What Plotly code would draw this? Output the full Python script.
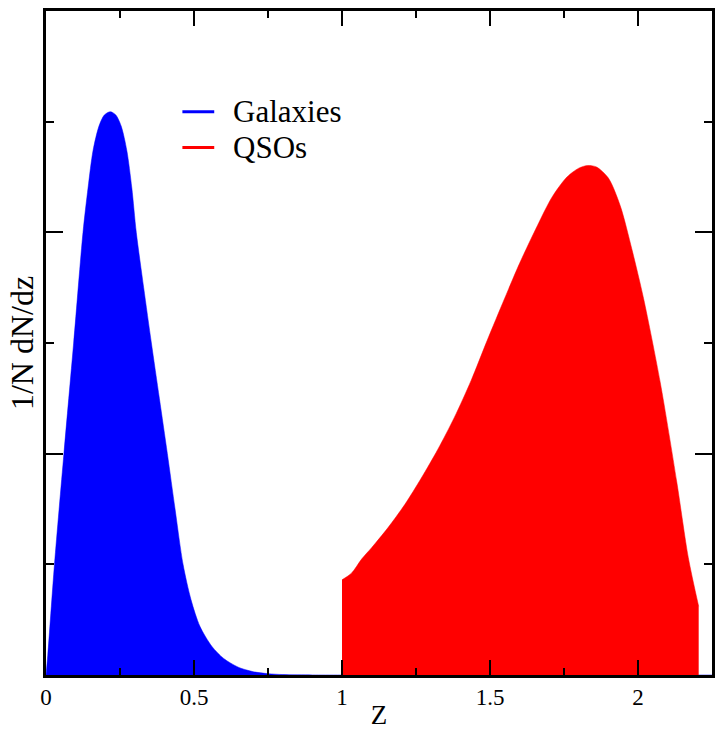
import plotly.graph_objects as go

# Galaxies redshift distribution (z, 1/N dN/dz)
gal_z = [0.0, 0.006, 0.0286, 0.0605, 0.0934, 0.125, 0.142, 0.159, 0.179, 0.197,
         0.2175, 0.236, 0.254, 0.273, 0.29, 0.305, 0.33, 0.356, 0.383, 0.41,
         0.436, 0.463, 0.49, 0.52, 0.56, 0.6, 0.65, 0.7, 0.75, 0.8, 0.9, 1.0, 2.25]
gal_v = [0.0, 0.09, 0.5, 1.0, 1.5, 2.0, 2.2, 2.37, 2.48, 2.53,
         2.545, 2.53, 2.48, 2.37, 2.2, 2.0, 1.75, 1.5, 1.25, 1.0,
         0.75, 0.5, 0.34, 0.22, 0.13, 0.075, 0.035, 0.015, 0.006, 0.002, 0.0003, 0.0, 0.0]

# QSOs redshift distribution
qso_z = [1.0, 1.032, 1.067, 1.10, 1.155, 1.212, 1.268, 1.324, 1.38, 1.436, 1.49,
         1.549, 1.60, 1.66, 1.71, 1.76, 1.80, 1.83, 1.86, 1.90, 1.94, 1.98,
         2.019, 2.075, 2.131, 2.17, 2.205]
qso_v = [0.43, 0.46, 0.525, 0.575, 0.665, 0.77, 0.89, 1.02, 1.165, 1.33, 1.51,
         1.70, 1.86, 2.03, 2.16, 2.25, 2.29, 2.302, 2.295, 2.245, 2.12, 1.92,
         1.70, 1.323, 0.872, 0.53, 0.31]

series_names = ["Galaxies", "QSOs"]
x_ticks = [0, 0.5, 1, 1.5, 2]
x_tick_labels = ["0", "0.5", "1", "1.5", "2"]

BLUE = "#0000ff"
RED = "#ff0000"
SERIF = "Liberation Serif"

fig = go.Figure()
fig.add_trace(go.Scatter(x=gal_z, y=gal_v, mode="lines", fill="tozeroy",
                         line=dict(color=BLUE, width=0.5, shape="spline", smoothing=0.8),
                         fillcolor=BLUE, showlegend=False, hoverinfo="skip"))
fig.add_trace(go.Scatter(x=qso_z, y=qso_v, mode="lines", fill="tozeroy",
                         line=dict(color=RED, width=0.5, shape="spline", smoothing=0.8),
                         fillcolor=RED, showlegend=False, hoverinfo="skip"))

axis_common = dict(showline=True, linecolor="black", linewidth=2.5, mirror="allticks",
                   ticks="inside", tickcolor="black", tickwidth=2, showgrid=False,
                   zeroline=False)

# legend drawn by hand: line sample + label
legend_colors = [BLUE, RED]
legend_y = [0.8483, 0.7943]
for name, col, yy in zip(series_names, legend_colors, legend_y):
    fig.add_shape(type="line", xref="paper", yref="paper", x0=0.2048, x1=0.2526,
                  y0=yy, y1=yy, line=dict(color=col, width=3))
    fig.add_annotation(xref="paper", yref="paper", x=0.278, y=yy, text=name,
                       showarrow=False, xanchor="left", yanchor="middle",
                       font=dict(size=31, family=SERIF, color="black"))

fig.update_layout(
    width=716, height=730,
    margin=dict(l=46, r=1, t=11, b=53),
    paper_bgcolor="white", plot_bgcolor="white",
    font=dict(family=SERIF, color="black"),
    showlegend=False,
    xaxis=dict(range=[0, 2.25], tickvals=x_ticks, ticktext=x_tick_labels, ticklen=15,
               tickfont=dict(size=23, family=SERIF),
               minor=dict(dtick=0.25, ticklen=7, ticks="inside", tickcolor="black", tickwidth=2),
               title=dict(text="Z", font=dict(size=27, family=SERIF), standoff=0),
               **axis_common),
    yaxis=dict(range=[0, 3], dtick=1, ticklen=17, showticklabels=False,
               minor=dict(dtick=0.5, ticklen=8, ticks="inside", tickcolor="black", tickwidth=2),
               title=dict(text="1/N dN/dz", font=dict(size=32, family=SERIF), standoff=1),
               **axis_common),
)

fig.write_html("out.html")
